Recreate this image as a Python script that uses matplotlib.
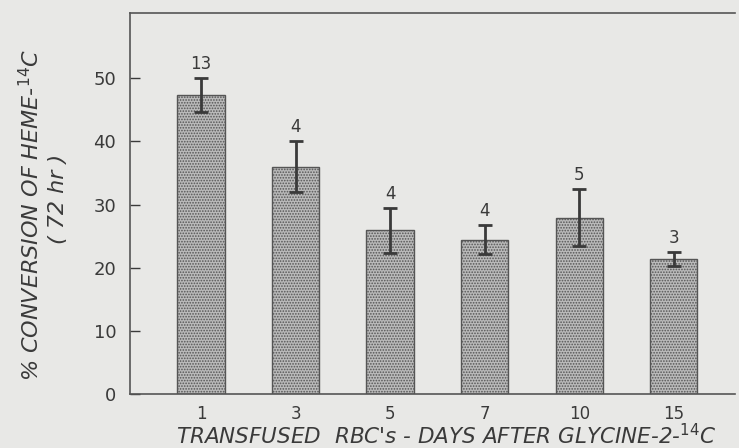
import matplotlib
matplotlib.use("Agg")
import matplotlib.pyplot as plt
import numpy as np

# data
days = ["1", "3", "5", "7", "10", "15"]
conversion = [47.4, 36.0, 25.9, 24.4, 27.9, 21.4]
err = [2.7, 4.0, 3.6, 2.3, 4.5, 1.1]
n_counts = ["13", "4", "4", "4", "5", "3"]

paper = "#e8e8e6"
ink = "#3a3a3a"

plt.rcParams["hatch.color"] = "#666666"
plt.rcParams["hatch.linewidth"] = 0.8

fig = plt.figure(figsize=(7.39, 4.48), dpi=100, facecolor=paper)
ax = fig.add_axes([0.176, 0.1205, 0.819, 0.850], facecolor=paper)

x = np.arange(len(days))
ax.bar(x, conversion, width=0.5, color="#bababa", edgecolor="#555555",
       linewidth=1.0, hatch="......", zorder=2)
ax.errorbar(x, conversion, yerr=err, fmt="none", ecolor=ink,
            elinewidth=2, capsize=5, capthick=2, zorder=3)

for xi, yi, e, n in zip(x, conversion, err, n_counts):
    ax.text(xi, yi + e + 0.8, n, ha="center", va="bottom",
            fontsize=12, color=ink)

ax.set_xlim(-0.75, 5.65)
ax.set_ylim(0, 60.3)
ax.set_yticks([0, 10, 20, 30, 40, 50])
ax.set_xticks(x)
ax.set_xticklabels(days)
ax.tick_params(axis="y", direction="in", length=7, width=1, colors=ink,
               labelsize=13, pad=10)
ax.tick_params(axis="x", length=0, labelsize=12, colors=ink, pad=8)

for side in ["left", "bottom", "top"]:
    ax.spines[side].set_color("#555555")
    ax.spines[side].set_linewidth(1.2)
ax.spines["right"].set_visible(False)

fig.text(0.604, 0.0, "TRANSFUSED  RBC's - DAYS AFTER GLYCINE-2-$^{14}$C",
         ha="center", va="bottom", fontsize=15.5, style="italic", color=ink)
fig.text(0.042, 0.52, "% CONVERSION OF HEME-$^{14}$C", rotation=90,
         ha="center", va="center", fontsize=16, style="italic", color=ink)
fig.text(0.078, 0.555, "( 72 hr )", rotation=90,
         ha="center", va="center", fontsize=16, style="italic", color=ink)

fig.savefig("out.png", dpi=100, facecolor=paper)
